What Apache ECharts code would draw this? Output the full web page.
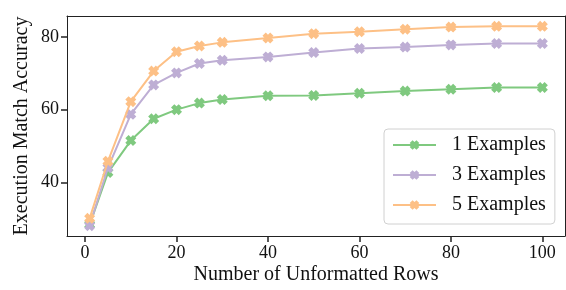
<!DOCTYPE html>
<html>
<head>
<meta charset="utf-8">
<script src="https://cdn.jsdelivr.net/npm/echarts@6/dist/echarts.min.js"></script>
<style>html,body{margin:0;padding:0;background:#fff}#c{width:566px;height:290px}</style>
</head>
<body>
<div id="c"></div>
<script>
const rows = [1, 5, 10, 15, 20, 25, 30, 40, 50, 60, 70, 80, 90, 100];
const ex1 = [28.4, 42.7, 51.5, 57.5, 60.0, 61.8, 62.8, 63.8, 63.9, 64.5, 65.1, 65.6, 66.1, 66.1];
const ex3 = [28.1, 44.0, 58.7, 66.8, 70.1, 72.7, 73.6, 74.5, 75.7, 76.8, 77.2, 77.8, 78.2, 78.2];
const ex5 = [30.1, 45.8, 62.2, 70.6, 75.9, 77.5, 78.5, 79.7, 80.9, 81.4, 82.1, 82.7, 82.9, 82.9];
const seriesNames = ['1 Examples', '3 Examples', '5 Examples'];
const xTicks = [0, 20, 40, 60, 80, 100];
const yTicks = [40, 60, 80];
const xName = 'Number of Unformatted Rows';
const yName = 'Execution Match Accuracy';

const colors = ['#7fc97f', '#beaed4', '#fdc086'];
const xMark = 'path://M0,3 L3,0 L5,2 L7,0 L10,3 L8,5 L10,7 L7,10 L5,8 L3,10 L0,7 L2,5 Z';
const font = '"Liberation Serif", "DejaVu Serif", serif';
const xRange = { min: -3.95, max: 104.95 };
const yRange = { min: 25.25, max: 85.75 };

function pairs(ys) { return rows.map((x, i) => [x, ys[i]]); }
const frameAxis = (pos, r) => ({
  type: 'value', position: pos, min: r.min, max: r.max,
  axisLine: { show: true, onZero: false, lineStyle: { color: '#222', width: 1 } },
  axisTick: { show: false }, axisLabel: { show: false }, splitLine: { show: false }
});
const tickAxis = (pos, r, vals) => ({
  type: 'value', position: pos, min: r.min, max: r.max, offset: 0,
  axisLine: { show: false, onZero: false },
  axisTick: { show: true, length: 6, customValues: vals, lineStyle: { color: '#222', width: 1.5 } },
  axisLabel: { show: true, customValues: vals, color: 'rgba(0,0,0,0)' },
  splitLine: { show: false }
});

const chart = echarts.init(document.getElementById('c'));
chart.setOption({
  animation: false,
  grid: { left: 67, top: 16, right: 1, bottom: 54 },
  xAxis: [{
    type: 'value', position: 'bottom', min: xRange.min, max: xRange.max,
    axisLine: { show: true, onZero: false, lineStyle: { color: '#222', width: 1 } },
    axisTick: { show: false },
    axisLabel: { customValues: xTicks, fontFamily: font, fontSize: 18, color: '#111' },
    splitLine: { show: false }
  }, frameAxis('top', xRange), tickAxis('bottom', xRange, xTicks)],
  yAxis: [{
    type: 'value', position: 'left', min: yRange.min, max: yRange.max,
    axisLine: { show: true, onZero: false, lineStyle: { color: '#222', width: 1 } },
    axisTick: { show: false },
    axisLabel: { customValues: yTicks, fontFamily: font, fontSize: 18, color: '#111' },
    splitLine: { show: false }
  }, frameAxis('right', yRange), tickAxis('left', yRange, yTicks)],
  graphic: [
    { type: 'text', x: 316, y: 265, style: { text: xName, fontFamily: font, fontSize: 20, fill: '#111', align: 'center', verticalAlign: 'top' } },
    { type: 'text', x: 22, y: 126, rotation: Math.PI / 2, style: { text: yName, fontFamily: font, fontSize: 20, fill: '#111', align: 'center', verticalAlign: 'middle' } }
  ],
  legend: {
    orient: 'vertical', left: 384, top: 129,
    data: seriesNames,
    itemWidth: 43, itemHeight: 12, itemGap: 10,
    padding: [6, 9, 9, 8],
    backgroundColor: 'rgba(255,255,255,0.85)', borderColor: '#d0d0d0', borderWidth: 1, borderRadius: 4,
    textStyle: { fontFamily: font, fontSize: 20, color: '#111', lineHeight: 20, padding: [0, 0, 0, 11] }
  },
  series: [ex1, ex3, ex5].map((d, i) => ({
    name: seriesNames[i], type: 'line', data: pairs(d), xAxisIndex: 0, yAxisIndex: 0,
    symbol: xMark, symbolSize: 11, showSymbol: true,
    lineStyle: { color: colors[i], width: 2 },
    itemStyle: { color: colors[i] },
    z: 2 + i
  }))
});
</script>
</body>
</html>
